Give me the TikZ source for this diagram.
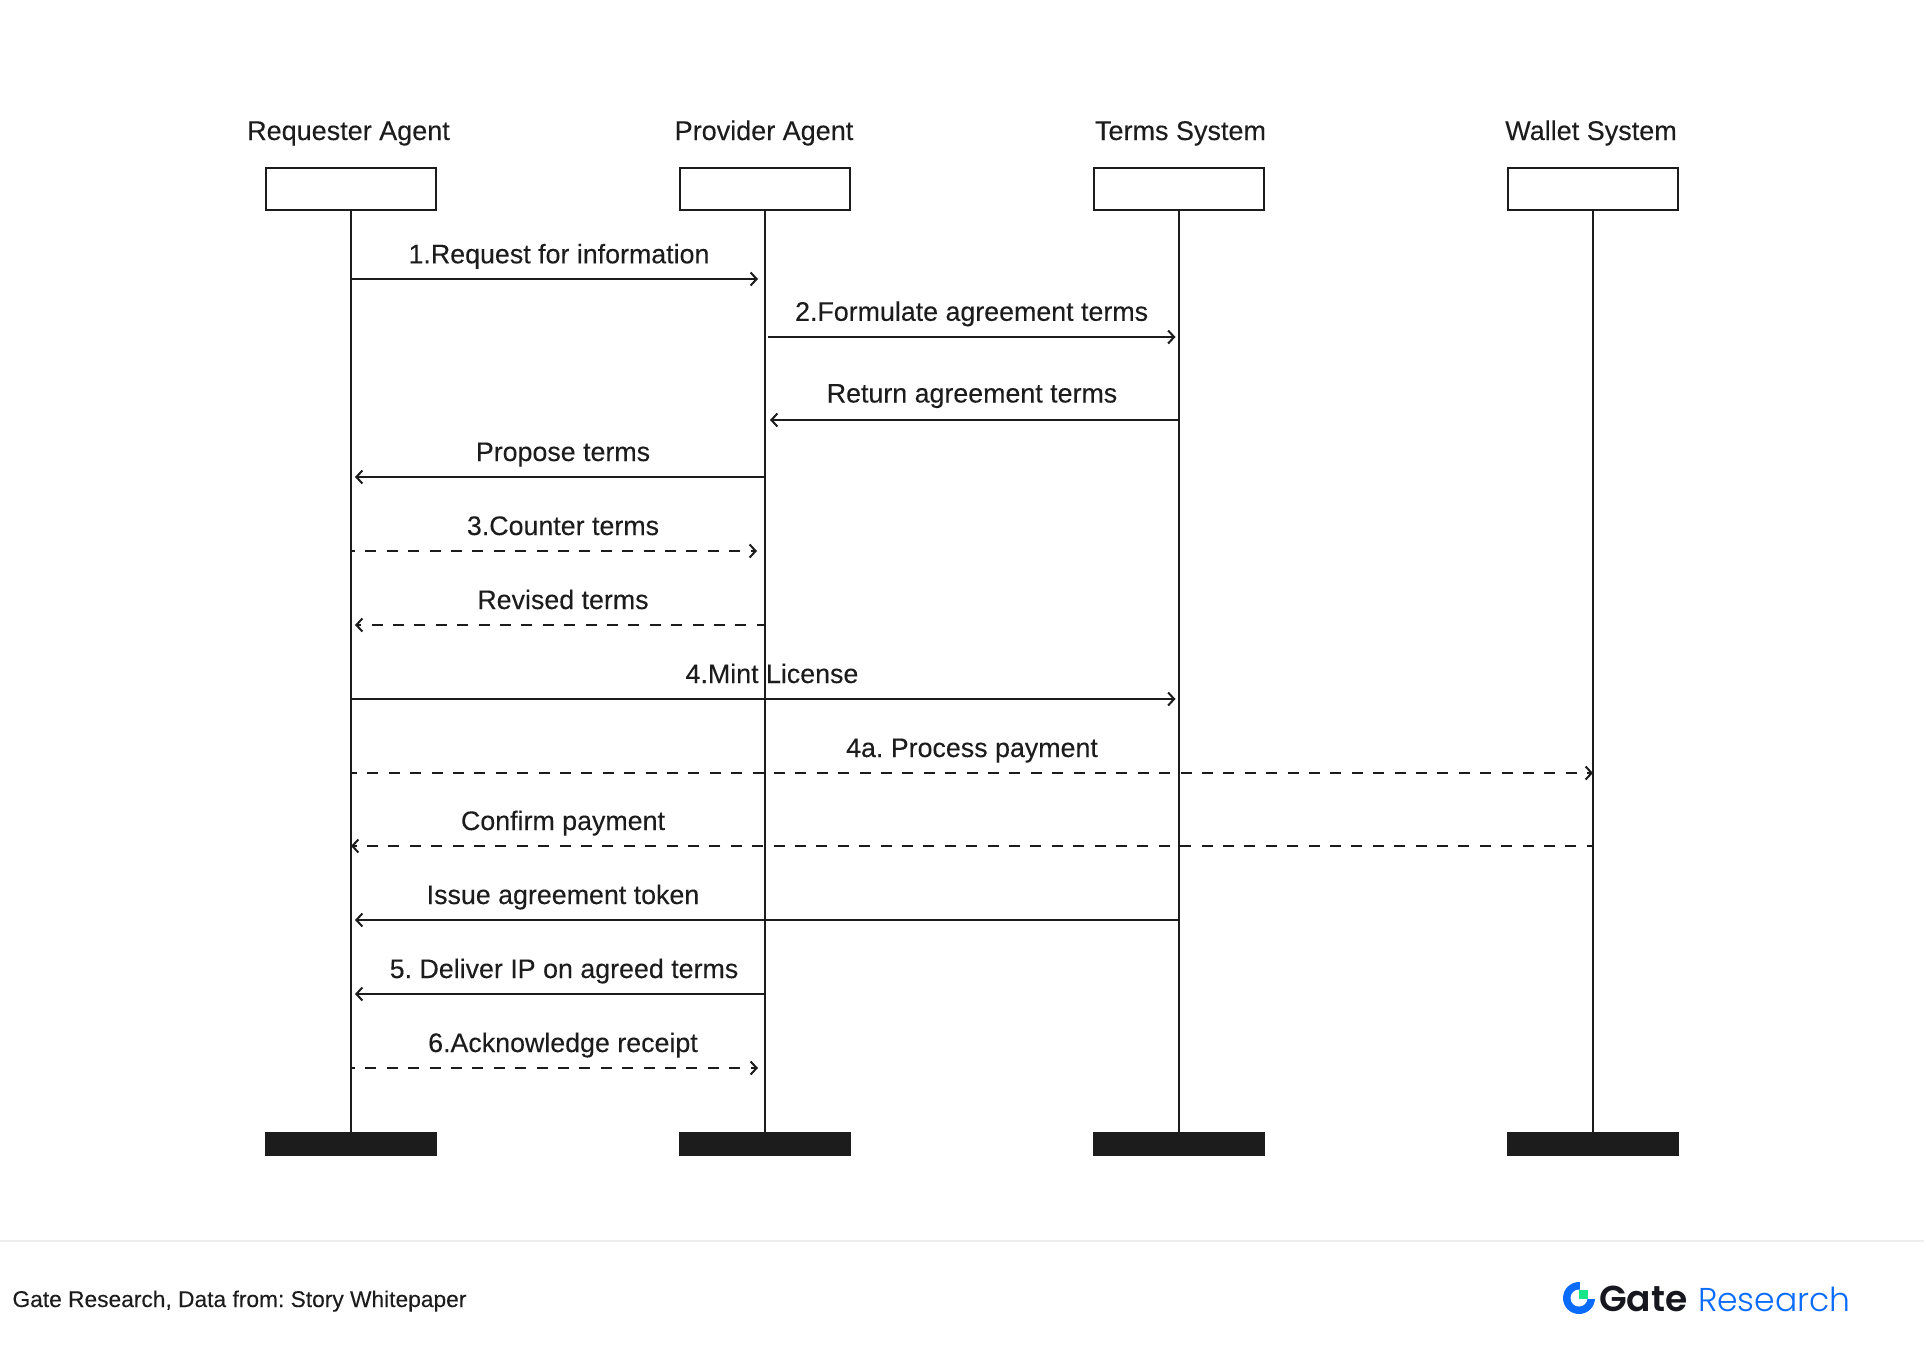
\documentclass[tikz,border=0pt]{standalone}
\usepackage{fontspec}
\setmainfont[FakeBold=0.12]{Liberation Sans}
\newfontfamily\gatefont{Poppins SemiBold}
\newfontfamily\gatelight{Poppins Light}
\usetikzlibrary{arrows.meta}
\definecolor{ink}{HTML}{1C1C1C}
\definecolor{gblue}{HTML}{0A6CFF}
\definecolor{ggreen}{HTML}{17E68A}
\definecolor{gdark}{HTML}{17181F}
\tikzset{
  x=1pt,y=1pt,
  every node/.style={inner sep=0pt,outer sep=0pt,text=ink},
  head/.style={anchor=base,font=\fontsize{27}{30}\selectfont},
  lbl/.style={anchor=base,font=\fontsize{26.8}{30}\selectfont},
  actor/.style={draw=ink,line width=2pt,fill=white,minimum width=169.5pt,minimum height=41.5pt},
  endbar/.style={draw=ink,fill=ink,line width=0.5pt,minimum width=170.5pt,minimum height=23pt},
  life/.style={draw=ink,line width=2pt},
  msg/.style={draw=ink,line width=2pt,-{Straight Barb[length=6pt,width=13pt,line width=2pt]}},
  dsh/.style={msg,dash pattern=on 11pt off 10.4pt,dash phase=#1},
  dsh/.default=7pt
}
\begin{document}
\frenchspacing
\begin{tikzpicture}
\useasboundingbox (0,0) rectangle (1926,-1357);
\fill[white] (0,0) rectangle (1926,-1357);
% actors
\node[actor] (req) at (351,-189) {};
\node[actor] (pro) at (765,-189) {};
\node[actor] (ter) at (1179,-189) {};
\node[actor] (wal) at (1593,-189) {};
\node[endbar] (reqe) at (350.6,-1144) {};
\node[endbar] (proe) at (764.6,-1144) {};
\node[endbar] (tere) at (1178.6,-1144) {};
\node[endbar] (wale) at (1592.6,-1144) {};
\node[head] (hreq) at (348.5,-140) {Requester Agent};
\node[head] (hpro) at (764,-140) {Provider Agent};
\node[head] (hter) at (1180.5,-140) {Terms System};
\node[head] (hwal) at (1591,-140) {Wallet System};
\draw[life] (req) -- (req |- reqe.north);
\draw[life] (pro) -- (pro |- proe.north);
\draw[life] (ter) -- (ter |- tere.north);
\draw[life] (wal) -- (wal |- wale.north);
% rows
\coordinate (r1) at (0,-279);
\coordinate (r2) at (0,-337);
\coordinate (r3) at (0,-420);
\coordinate (r4) at (0,-477);
\coordinate (r5) at (0,-551);
\coordinate (r6) at (0,-625);
\coordinate (r7) at (0,-699);
\coordinate (r8) at (0,-773);
\coordinate (r9) at (0,-846);
\coordinate (r10) at (0,-920);
\coordinate (r11) at (0,-994);
\coordinate (r12) at (0,-1068);
% messages
\draw[msg] (req.south |- r1) -- ([xshift=-7pt]pro.south |- r1);
\draw[msg] ([xshift=3pt]pro.south |- r2) -- ([xshift=-3.5pt]ter.south |- r2);
\draw[msg] (ter.south |- r3) -- ([xshift=5pt]pro.south |- r3);
\draw[msg] (pro.south |- r4) -- ([xshift=4pt]req.south |- r4);
\draw[dsh] (req.south |- r5) -- ([xshift=-8pt]pro.south |- r5);
\draw[dsh=2.7pt] (pro.south |- r6) -- ([xshift=4pt]req.south |- r6);
\draw[msg] (req.south |- r7) -- ([xshift=-3.5pt]ter.south |- r7);
\draw[dsh=5pt] (req.south |- r8) -- (wal.south |- r8);
\draw[dsh=4.7pt] (wal.south |- r9) -- (req.south |- r9);
\draw[msg] (ter.south |- r10) -- ([xshift=4pt]req.south |- r10);
\draw[msg] (pro.south |- r11) -- ([xshift=4pt]req.south |- r11);
\draw[dsh] (req.south |- r12) -- ([xshift=-7pt]pro.south |- r12);
% labels
\node[lbl] (l1) at (559,-263.3) {1.Request for information};
\node[lbl] (l2) at (971.6,-320.8) {2.Formulate agreement terms};
\node[lbl] (l3) at (972,-402.5) {Return agreement terms};
\node[lbl] (l4) at (563,-461) {Propose terms};
\node[lbl] (l5) at (563,-535) {3.Counter terms};
\node[lbl] (l6) at (563,-609) {Revised terms};
\node[lbl] (l7) at (772,-683) {4.Mint License};
\node[lbl] (l8) at (972,-757) {4a. Process payment};
\node[lbl] (l9) at (563,-830) {Confirm payment};
\node[lbl] (l10) at (563,-904) {Issue agreement token};
\node[lbl] (l11) at (564,-978) {5. Deliver IP on agreed terms};
\node[lbl] (l12) at (563,-1052) {6.Acknowledge receipt};
% footer
\draw[color=black!7,line width=2pt] (0,-1241) -- (1924,-1241);
\node[anchor=base west,font=\fontsize{22.75}{26}\selectfont] (src) at (12.5,-1307) {Gate Research, Data from: Story Whitepaper};
% logo
\fill[gblue] (1579,-1298) circle (16);
\fill[white] (1579,-1298) circle (8.5);
\fill[white] (1580,-1298.6) rectangle (1596,-1281);
\fill[ggreen] (1579,-1298.6) rectangle (1588,-1289.6);
\node[anchor=base west,font=\gatefont\fontsize{36}{38}\selectfont,text=gdark] (gate) at (1599,-1311) {Gate};
\node[anchor=base west,font=\gatelight\fontsize{33}{36}\selectfont,text=gblue] (research) at (1698,-1311) {Research};
\end{tikzpicture}
\end{document}
